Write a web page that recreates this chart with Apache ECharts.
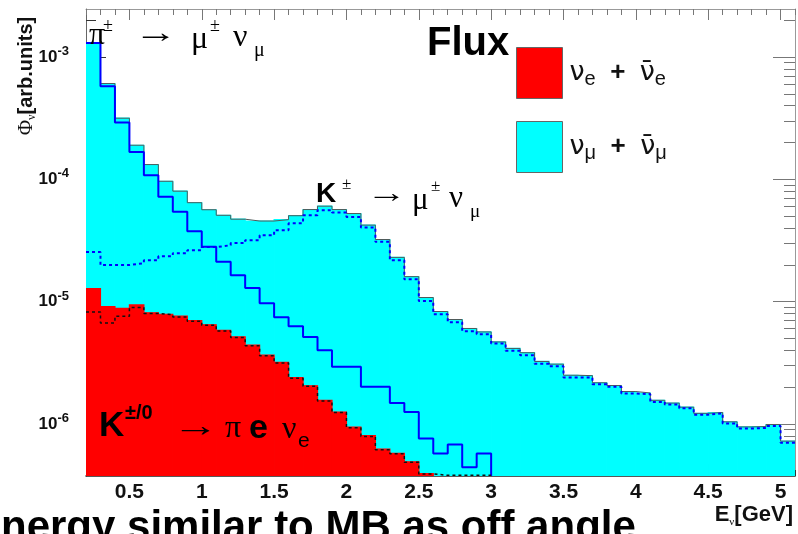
<!DOCTYPE html>
<html><head><meta charset="utf-8">
<script src="https://cdn.jsdelivr.net/npm/echarts@6/dist/echarts.min.js"></script>
<style>html,body{margin:0;padding:0;background:#fff;overflow:hidden}#c{width:798px;height:534px}</style>
</head><body><div id="c"></div>
<script>
// ---- data ----
const binEdges = [0.2,0.3,0.4,0.5,0.6,0.7,0.8,0.9,1.0,1.1,1.2,1.3,1.4,1.5,1.6,1.7,1.8,1.9,2.0,2.1,2.2,2.3,2.4,2.5,2.6,2.7,2.8,2.9,3.0,3.1,3.2,3.3,3.4,3.5,3.6,3.7,3.8,3.9,4.0,4.1,4.2,4.3,4.4,4.5,4.6,4.7,4.8,4.9,5.0,5.1];
const numuTotal = [1.31e-3,6.07e-4,3.16e-4,1.90e-4,1.32e-4,9.64e-5,8.00e-5,6.44e-5,5.64e-5,5.08e-5,4.72e-5,4.56e-5,4.56e-5,4.68e-5,5.04e-5,5.66e-5,6.03e-5,5.66e-5,5.25e-5,4.22e-5,3.22e-5,2.30e-5,1.60e-5,1.08e-5,8.30e-6,7.14e-6,6.03e-6,5.65e-6,4.68e-6,4.14e-6,3.82e-6,3.24e-6,3.08e-6,2.50e-6,2.48e-6,2.17e-6,2.06e-6,1.84e-6,1.79e-6,1.56e-6,1.48e-6,1.37e-6,1.22e-6,1.24e-6,1.04e-6,9.45e-7,9.52e-7,9.89e-7,7.23e-7];
const numuFromPion = [1.30e-3,5.77e-4,2.91e-4,1.67e-4,1.08e-4,7.21e-5,5.42e-5,3.77e-5,2.81e-5,2.12e-5,1.64e-5,1.29e-5,9.71e-6,7.46e-6,6.30e-6,5.14e-6,4.01e-6,2.93e-6,2.93e-6,2.01e-6,2.01e-6,1.48e-6,1.25e-6,7.60e-7,5.73e-7,6.79e-7,4.43e-7,5.73e-7,0,0,0,0,0,0,0,0,0,0,0,0,0,0,0,0,0,0,0,0,0];
const numuFromKaon = [2.54e-5,1.99e-5,1.99e-5,2.06e-5,2.18e-5,2.35e-5,2.49e-5,2.63e-5,2.79e-5,2.89e-5,3.01e-5,3.18e-5,3.49e-5,3.83e-5,4.37e-5,5.08e-5,5.58e-5,5.35e-5,4.93e-5,4.04e-5,3.08e-5,2.18e-5,1.52e-5,1.01e-5,7.88e-6,6.79e-6,5.73e-6,5.41e-6,4.54e-6,3.97e-6,3.65e-6,3.10e-6,2.96e-6,2.40e-6,2.39e-6,2.11e-6,2.01e-6,1.77e-6,1.75e-6,1.51e-6,1.44e-6,1.34e-6,1.19e-6,1.22e-6,1.01e-6,9.16e-7,9.27e-7,9.63e-7,7.00e-7];
const nueTotal = [1.28e-5,9.12e-6,8.79e-6,9.40e-6,8.11e-6,7.88e-6,7.60e-6,7.00e-6,6.47e-6,5.81e-6,5.14e-6,4.40e-6,3.65e-6,3.19e-6,2.39e-6,2.05e-6,1.56e-6,1.25e-6,9.40e-7,8.01e-7,6.21e-7,5.75e-7,4.89e-7,3.93e-7,0,0,0,0,0,0,0,0,0,0,0,0,0,0,0,0,0,0,0,0,0,0,0,0,0];
const nueFromKaon = [8.24e-6,6.70e-6,7.60e-6,8.95e-6,8.00e-6,7.80e-6,7.50e-6,6.90e-6,6.40e-6,5.75e-6,5.08e-6,4.35e-6,3.61e-6,3.15e-6,2.36e-6,2.03e-6,1.54e-6,1.24e-6,9.30e-7,7.90e-7,6.15e-7,5.70e-7,4.85e-7,3.90e-7,3.80e-7,3.80e-7,3.80e-7,3.80e-7,0,0,0,0,0,0,0,0,0,0,0,0,0,0,0,0,0,0,0,0,0];
const xTickLabels = [0.5,1,1.5,2,2.5,3,3.5,4,4.5,5];
const yTickLabels = [1e-6,1e-5,1e-4,1e-3];

// ---- scales ----
const X_MIN = 0.2, X_MAX = 5.1;
const Y_MIN = 3.75e-7, Y_MAX = 2.47e-3;
const xMinorTicks = [];
for (let i = 2; i <= 51; i++) xMinorTicks.push(+(i / 10).toFixed(1));
const yMinorTicks = [];
for (let e = -7; e <= -3; e++) for (let m = 2; m <= 9; m++) {
  const v = +(m * Math.pow(10, e)).toPrecision(3);
  if (v > Y_MIN && v < Y_MAX) yMinorTicks.push(v);
}

function histBins(vals) {
  const out = [];
  vals.forEach((v, i) => { if (v > 0) out.push([binEdges[i], binEdges[i + 1], v]); });
  return out;
}
function stepLine(vals) {
  let last = -1;
  vals.forEach((v, i) => { if (v > 0) last = i; });
  const pts = [];
  for (let i = 0; i <= last; i++) pts.push([binEdges[i], vals[i]]);
  pts.push([binEdges[last + 1], last === vals.length - 1 ? vals[last] : Y_MIN]);
  return pts;
}
function fillSeries(name, vals, color, z) {
  return {
    name, type: 'custom', xAxisIndex: 0, yAxisIndex: 0, z,
    itemStyle: { color },
    encode: { x: [0, 1], y: 2 },
    data: histBins(vals),
    clip: true,
    renderItem(params, api) {
      const p0 = api.coord([api.value(0), api.value(2)]);
      const p1 = api.coord([api.value(1), Y_MIN]);
      const cs = params.coordSys;
      const r = echarts.graphic.clipRectByRect(
        { x: p0[0], y: p0[1], width: p1[0] - p0[0], height: p1[1] - p0[1] },
        { x: cs.x, y: cs.y, width: cs.width, height: cs.height });
      return r && { type: 'rect', shape: r, style: { fill: color, stroke: color, lineWidth: 1.2 } };
    }
  };
}
function lineSeries(name, vals, color, width, type, z) {
  return {
    name, type: 'line', step: 'end', xAxisIndex: 0, yAxisIndex: 0, z,
    symbol: 'none', silent: true, clip: true,
    lineStyle: { color, width, type },
    data: stepLine(vals)
  };
}

const tickColor = '#333';
const baseAxisX = { type: 'value', min: X_MIN, max: X_MAX, splitLine: { show: false } };
const baseAxisY = { type: 'log', logBase: 10, min: Y_MIN, max: Y_MAX, splitLine: { show: false }, minorTick: { show: false } };

const chart = echarts.init(document.getElementById('c'), null, { renderer: 'canvas' });
const sans = 'Liberation Sans, Arial, sans-serif';
const serif = 'Liberation Serif, Times New Roman, serif';

function piece(text, x, y, style, extra) {
  return Object.assign({ type: 'text', x, y, z: 100, silent: true,
    style: Object.assign({ text, fill: '#000', verticalAlign: 'middle', align: 'left' }, style) }, extra || {});
}

chart.setOption({
  animation: false,
  backgroundColor: '#fff',
  grid: { left: 86, top: 9, width: 709, height: 467, containLabel: false },
  xAxis: [
    Object.assign({}, baseAxisX, { position: 'bottom',
      axisLine: { show: true, onZero: false, lineStyle: { color: '#222', width: 1.5 } },
      axisTick: { show: true, inside: true, length: 12, customValues: xTickLabels, lineStyle: { color: tickColor } },
      axisLabel: { show: true, customValues: xTickLabels, margin: 6, color: '#111', fontFamily: sans, fontWeight: 'bold', fontSize: 21,
        formatter: v => String(v) } }),
    Object.assign({}, baseAxisX, { position: 'bottom',
      axisLine: { show: false }, axisLabel: { show: false },
      axisTick: { show: true, inside: true, length: 6, customValues: xMinorTicks, lineStyle: { color: tickColor } } }),
    Object.assign({}, baseAxisX, { position: 'top',
      axisLine: { show: true, onZero: false, lineStyle: { color: '#999', width: 1 } }, axisLabel: { show: false },
      axisTick: { show: true, inside: true, length: 11, customValues: xTickLabels, lineStyle: { color: '#777' } } }),
    Object.assign({}, baseAxisX, { position: 'top',
      axisLine: { show: false }, axisLabel: { show: false },
      axisTick: { show: true, inside: true, length: 6, customValues: xMinorTicks, lineStyle: { color: '#777' } } })
  ],
  yAxis: [
    Object.assign({}, baseAxisY, { position: 'left',
      axisLine: { show: true, onZero: false, lineStyle: { color: '#666', width: 1 } },
      axisTick: { show: true, inside: true, length: 20, customValues: yTickLabels, lineStyle: { color: tickColor } },
      axisLabel: { show: true, customValues: yTickLabels, margin: 17, color: '#111',
        formatter: v => '{b|10}{e|' + Math.round(Math.log10(v)) + '}',
        rich: {
          b: { fontFamily: sans, fontWeight: 'bold', fontSize: 17, lineHeight: 24, color: '#111' },
          e: { fontFamily: sans, fontWeight: 'bold', fontSize: 13, lineHeight: 13, verticalAlign: 'top', color: '#111' }
        } } }),
    Object.assign({}, baseAxisY, { position: 'left',
      axisLine: { show: false }, axisLabel: { show: false },
      axisTick: { show: true, inside: true, length: 10, customValues: yMinorTicks, lineStyle: { color: tickColor } } }),
    Object.assign({}, baseAxisY, { position: 'right',
      axisLine: { show: true, onZero: false, lineStyle: { color: '#999', width: 1 } }, axisLabel: { show: false },
      axisTick: { show: true, inside: true, length: 22, customValues: yTickLabels, lineStyle: { color: '#777' } } }),
    Object.assign({}, baseAxisY, { position: 'right',
      axisLine: { show: false }, axisLabel: { show: false },
      axisTick: { show: true, inside: true, length: 11, customValues: yMinorTicks, lineStyle: { color: '#777' } } })
  ],
  legend: {
    orient: 'vertical', left: 511, top: 42, itemWidth: 46, itemHeight: 51, itemGap: 22,
    icon: 'rect', selectedMode: false,
    data: [
      { name: 'nue', itemStyle: { color: '#ff0000', borderColor: '#666', borderWidth: 1 } },
      { name: 'numu', itemStyle: { color: '#00ffff', borderColor: '#666', borderWidth: 1 } }
    ],
    formatter: n => n === 'nue'
      ? '{n|ν}{s|e}{p|  +  }{n|ν̄}{s|e}'
      : '{n|ν}{s|μ}{p|  +  }{n|ν̄}{s|μ}',
    textStyle: {
      padding: [0, 0, 0, 2],
      rich: {
        n: { fontFamily: 'DejaVu Sans', fontSize: 27, lineHeight: 32, color: '#111' },
        s: { fontFamily: sans, fontSize: 20, lineHeight: 20, verticalAlign: 'bottom', color: '#111' },
        p: { fontFamily: sans, fontWeight: 'bold', fontSize: 26, lineHeight: 32, color: '#111' }
      }
    }
  },
  series: [
    fillSeries('numu', numuTotal, '#00ffff', 1),
    lineSeries('numuTotalLine', numuTotal, '#4f5a5a', 1, 'solid', 3),
    lineSeries('numuPion', numuFromPion, '#0000ff', 2, 'solid', 4),
    lineSeries('numuKaon', numuFromKaon, '#0000ff', 2, [3, 3], 4),
    fillSeries('nue', nueTotal, '#ff0000', 5),
    lineSeries('nueKaon', nueFromKaon, '#111', 1.5, [3, 3], 6)
  ],
  graphic: [
    // y title
    { type: 'text', x: 26, y: 76, rotation: Math.PI / 2, z: 100, silent: true,
      style: { text: '{p|Φ}{n|ν}{t|[arb.units]}', align: 'center', verticalAlign: 'middle', fill: '#111',
        rich: { p: { fontFamily: serif, fontSize: 21, lineHeight: 24 },
                n: { fontFamily: serif, fontSize: 12, lineHeight: 12, verticalAlign: 'bottom' },
                t: { fontFamily: sans, fontWeight: 'bold', fontSize: 20, lineHeight: 24 } } } },
    // x title
    { type: 'text', x: 793, y: 515, z: 100, silent: true,
      style: { text: '{t|E}{n|ν}{t|[GeV]}', align: 'right', verticalAlign: 'middle', fill: '#111',
        rich: { t: { fontFamily: sans, fontWeight: 'bold', fontSize: 22, lineHeight: 26 },
                n: { fontFamily: serif, fontSize: 11, lineHeight: 11, verticalAlign: 'bottom' } } } },
    // Flux
    piece('Flux', 427, 44, { fontFamily: sans, fontWeight: 'bold', fontSize: 40 }),
    // pi -> mu nu
    piece('π', 89, 36, { fontFamily: serif, fontSize: 32 }),
    piece('±', 103, 26, { fontFamily: serif, fontSize: 18 }),
    piece('→', 134, 34, { fontFamily: serif, fontSize: 30 }, { scaleX: 1.45 }),
    piece('μ', 191, 40, { fontFamily: serif, fontSize: 32 }),
    piece('±', 210, 26, { fontFamily: serif, fontSize: 18 }),
    piece('ν', 233, 38, { fontFamily: serif, fontSize: 32 }),
    piece('μ', 254, 51, { fontFamily: serif, fontSize: 20 }),
    // K -> mu nu
    piece('K', 316, 194, { fontFamily: sans, fontWeight: 'bold', fontSize: 28 }),
    piece('±', 342, 185, { fontFamily: serif, fontSize: 17 }),
    piece('→', 366, 195, { fontFamily: serif, fontSize: 28 }, { scaleX: 1.45 }),
    piece('μ', 412, 201, { fontFamily: serif, fontSize: 31 }),
    piece('±', 431, 187, { fontFamily: serif, fontSize: 17 }),
    piece('ν', 449, 199, { fontFamily: serif, fontSize: 31 }),
    piece('μ', 470, 212, { fontFamily: serif, fontSize: 19 }),
    // K -> pi e nu
    piece('K', 99, 426, { fontFamily: sans, fontWeight: 'bold', fontSize: 35 }),
    piece('±/0', 125, 413, { fontFamily: sans, fontWeight: 'bold', fontSize: 20 }),
    piece('→', 172, 428, { fontFamily: serif, fontSize: 32 }, { scaleX: 1.45 }),
    piece('π', 225, 429, { fontFamily: serif, fontSize: 32 }),
    piece('e', 249, 429, { fontFamily: sans, fontWeight: 'bold', fontSize: 34 }),
    piece('ν', 282, 430, { fontFamily: serif, fontSize: 32 }),
    piece('e', 298, 441, { fontFamily: sans, fontSize: 21 }),
    // bottom caption (cut off by the page edge)
    { type: 'text', x: -27, y: 549, z: 100, silent: true,
      style: { text: 'Energy similar to MB as off angle', fontFamily: sans, fontWeight: 'bold', fontSize: 42,
        fill: '#000', align: 'left', verticalAlign: 'bottom' } }
  ]
});
</script></body></html>
